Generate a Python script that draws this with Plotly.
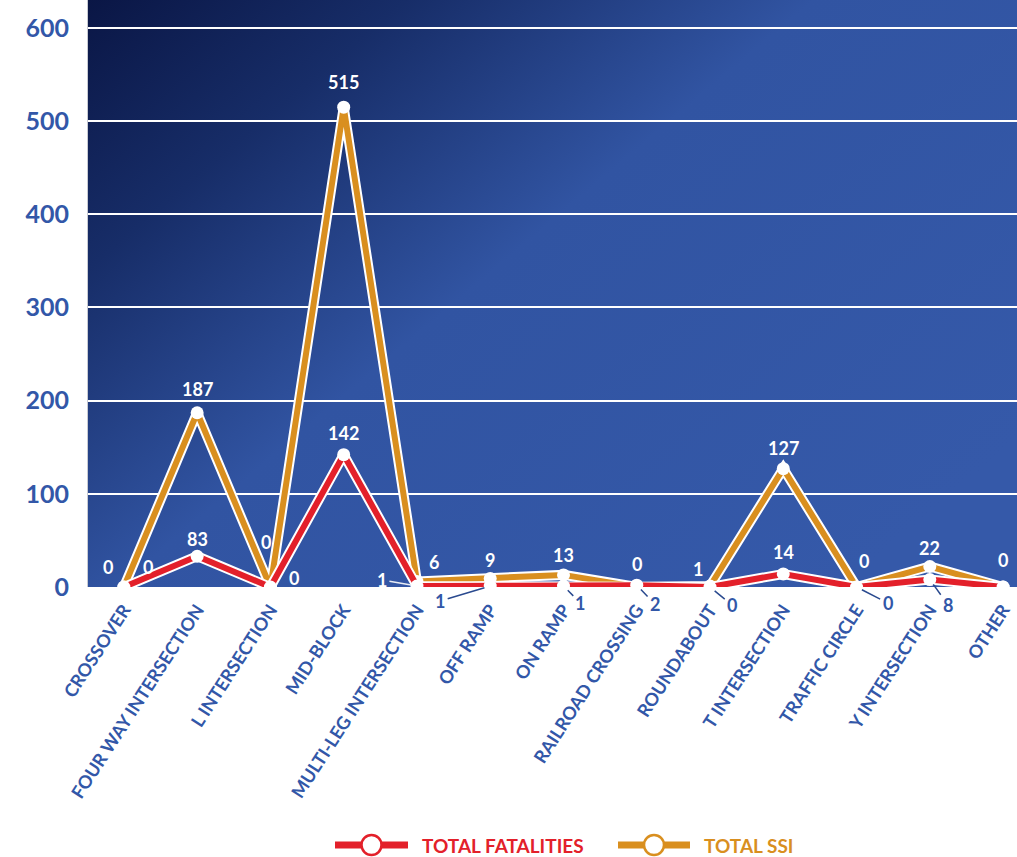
import base64
import plotly.graph_objects as go

categories = ["CROSSOVER", "FOUR WAY INTERSECTION", "L INTERSECTION", "MID-BLOCK",
              "MULTI-LEG INTERSECTION", "OFF RAMP", "ON RAMP", "RAILROAD CROSSING",
              "ROUNDABOUT", "T INTERSECTION", "TRAFFIC CIRCLE", "Y INTERSECTION", "OTHER"]
fatalities = [0, 33, 0, 142, 1, 1, 1, 2, 0, 14, 0, 8, 0]
fatal_labels = ["0", "83", "0", "142", "1", "1", "1", "2", "0", "14", "0", "8", ""]
ssi = [0, 187, 0, 515, 6, 9, 13, 0, 1, 127, 0, 22, 0]
ssi_labels = ["0", "187", "0", "515", "6", "9", "13", "0", "1", "127", "0", "22", "0"]
y_ticks = [0, 100, 200, 300, 400, 500, 600]
series_names = ["TOTAL FATALITIES", "TOTAL SSI"]

RED = "#e3202a"
ORANGE = "#d98f1f"
BLUE_TXT = "#3257a8"
FONT = "Lato, 'Open Sans', sans-serif"

W, H = 1017, 857
ML, MB = 88, 270
PW, PH = W - ML, H - MB

# label placement (pixel offsets of label centre from its point; arrow = leader line)
ssi_off = [(-16, -20), (0, -24), (-4, -45), (0, -25), (17, -19), (0, -19), (0, -20),
           (0, -23), (-12, -17), (0, -21), (7, -26), (0, -19), (0, -27)]
fat_off = [(24, -20, False), (0, -17, False), (24, -9, False), (0, -22, False),
           (-35, -6, True), (-50, 15, True), (17, 17, True), (18, 19, True),
           (22, 18, True), (0, -22, False), (31, 16, True), (18, 25, True), (0, 0, False)]

svg = """<svg xmlns='http://www.w3.org/2000/svg' width='1000' height='600' preserveAspectRatio='none' viewBox='0 0 1000 600'>
<defs><linearGradient id='g' x1='0' y1='0' x2='1' y2='0.75'>
<stop offset='0' stop-color='#0a1645'/>
<stop offset='0.22' stop-color='#172d68'/>
<stop offset='0.5' stop-color='#3154a2'/>
<stop offset='1' stop-color='#3559a9'/>
</linearGradient></defs>
<rect x='0' y='0' width='1000' height='600' fill='url(#g)'/></svg>"""
src = "data:image/svg+xml;base64," + base64.b64encode(svg.encode()).decode()

fig = go.Figure()

def add_series(vals, color, name):
    fig.add_trace(go.Scatter(x=categories, y=vals, mode="lines",
                             line=dict(color="white", width=10),
                             showlegend=False, hoverinfo="skip", cliponaxis=False))
    fig.add_trace(go.Scatter(x=categories, y=vals, mode="lines+markers",
                             line=dict(color=color, width=6),
                             marker=dict(color="white", size=13, line=dict(width=0)),
                             showlegend=False, name=name, cliponaxis=False))

add_series(ssi, ORANGE, series_names[1])
add_series(fatalities, RED, series_names[0])

annotations = []
for i, c in enumerate(categories):
    dx, dy = ssi_off[i]
    annotations.append(dict(x=c, y=ssi[i], text=ssi_labels[i], showarrow=False,
                            xshift=dx, yshift=-dy,
                            font=dict(family=FONT, size=18, color="white", weight="bold")))
    dx, dy, arrow = fat_off[i]
    if not fatal_labels[i]:
        continue
    if arrow:
        below = dy > 8
        col = BLUE_TXT if below else "white"
        annotations.append(dict(x=c, y=fatalities[i], text=fatal_labels[i], showarrow=True,
                                ax=dx, ay=dy, arrowhead=0, arrowwidth=1.5,
                                arrowcolor="#2a4a8f" if below else "#e8ecf5",
                                standoff=6, startstandoff=1,
                                font=dict(family=FONT, size=18, color=col, weight="bold")))
    else:
        annotations.append(dict(x=c, y=fatalities[i], text=fatal_labels[i], showarrow=False,
                                xshift=dx, yshift=-dy,
                                font=dict(family=FONT, size=18, color="white", weight="bold")))

# custom legend (line + hollow circle + coloured text)
def px_x(p):
    return (p - ML) / PW

def px_y(p):
    return (PH - p) / PH

shapes = []
legend_items = [(RED, series_names[0], 335, 408), (ORANGE, series_names[1], 618, 690)]
LY = 845
for color, name, x0, x1 in legend_items:
    shapes.append(dict(type="line", xref="paper", yref="paper",
                       x0=px_x(x0), x1=px_x(x1), y0=px_y(LY), y1=px_y(LY),
                       line=dict(color=color, width=7)))
    cx = (x0 + x1) / 2
    shapes.append(dict(type="circle", xref="paper", yref="paper",
                       x0=px_x(cx - 10), x1=px_x(cx + 10), y0=px_y(LY + 10), y1=px_y(LY - 10),
                       fillcolor="white", line=dict(color=color, width=2.5)))
    annotations.append(dict(xref="paper", yref="paper", x=px_x(x1 + 12), y=px_y(LY),
                            xanchor="left", yanchor="middle", showarrow=False, text=name,
                            font=dict(family=FONT, size=19, color=color, weight="bold")))

fig.update_layout(
    width=W, height=H,
    margin=dict(l=ML, r=0, t=0, b=MB, autoexpand=False),
    paper_bgcolor="white",
    plot_bgcolor="rgba(0,0,0,0)",
    images=[dict(source=src, xref="paper", yref="paper", x=0, y=1, sizex=1, sizey=1,
                 sizing="stretch", layer="below", xanchor="left", yanchor="top")],
    xaxis=dict(range=[-0.49, 12.19], showgrid=False, zeroline=False, showline=False,
               tickangle=-57, ticks="", ticklabelstandoff=8, automargin=False,
               tickfont=dict(family=FONT, size=18, color=BLUE_TXT, weight="bold")),
    yaxis=dict(range=[0, 630], tickvals=y_ticks, showgrid=True, gridcolor="white",
               gridwidth=2, zeroline=False, showline=True, linecolor="#c8cad2", linewidth=1,
               ticks="", ticklabelstandoff=13, automargin=False,
               tickfont=dict(family=FONT, size=25, color=BLUE_TXT, weight="bold")),
    shapes=shapes,
    annotations=annotations,
    showlegend=False,
)

fig.write_html("out.html", config={"displayModeBar": False},
               post_script="document.body.style.margin='0';document.body.style.padding='0';")
